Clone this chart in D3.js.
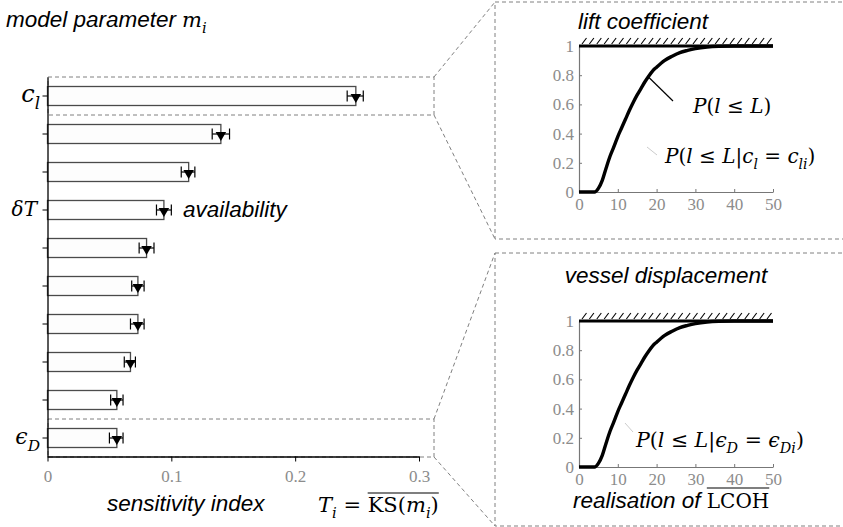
<!DOCTYPE html>
<html><head><meta charset="utf-8">
<script src="https://cdn.jsdelivr.net/npm/d3@7"></script>
<style>body{margin:0;background:#fff} svg{display:block}</style>
</head><body>
<svg id="chart" width="843" height="527"></svg>
<script>
// Sensitivity index per model parameter, top to bottom
const params = ["cl", "p2", "p3", "dT", "p5", "p6", "p7", "p8", "p9", "eD"];
const sensitivity = [0.249, 0.140, 0.114, 0.094, 0.080, 0.073, 0.073, 0.067, 0.056, 0.056];
const ciLow  = [0.242, 0.133, 0.108, 0.088, 0.074, 0.068, 0.067, 0.062, 0.051, 0.050];
const ciHigh = [0.255, 0.147, 0.119, 0.100, 0.086, 0.078, 0.078, 0.071, 0.061, 0.061];
const xTicks = [0, 0.1, 0.2, 0.3];

// Cumulative distribution of the LCOH realisation
const lcoh = [0, 4, 5, 6, 7, 8, 9, 10, 11, 12, 13, 14, 15, 16, 17, 18, 19, 20, 22, 24, 26, 28, 30, 33, 36, 40, 45, 50];
const cdf  = [0, 0, 0.025, 0.08, 0.165, 0.245, 0.31, 0.38, 0.44, 0.50, 0.56, 0.615, 0.665, 0.71, 0.755, 0.795, 0.83, 0.855, 0.90, 0.93, 0.955, 0.97, 0.982, 0.993, 0.998, 1, 1, 1];
const cdfXTicks = [0, 10, 20, 30, 40, 50];
const cdfYTicks = [0, 0.2, 0.4, 0.6, 0.8, 1];

const svg = d3.select("#chart");
const SANS = "'Liberation Sans', Arial, sans-serif";
const SERIF = "'DejaVu Serif', serif";
const TICKSERIF = "'Liberation Serif', 'DejaVu Serif', serif";
const DASH = "#808080";
const LABEL = 22.5;
const NB = "\u00A0";

// Math-style text: parts are [text, style], style r=roman, i=italic, s=italic subscript
function math(sel, x, y, parts, size, anchor) {
  const t = sel.append("text").attr("x", x).attr("y", y)
    .style("font-family", SERIF).attr("font-size", size)
    .attr("text-anchor", anchor || "start").attr("fill", "#000");
  let shifted = 0;
  parts.forEach(([txt, style]) => {
    const ts = t.append("tspan").text(txt.replace(/ /g, NB));
    const sub = style === "s";
    const off = sub ? size * 0.3 : 0;
    const dy = off - shifted;
    if (dy) ts.attr("dy", dy);
    shifted = off;
    ts.attr("font-style", style === "r" ? "normal" : "italic");
    if (sub) ts.attr("font-size", size * 0.7);
  });
  return t;
}

function label(sel, x, y, txt, anchor) {
  return sel.append("text").attr("x", x).attr("y", y).style("font-family", SANS)
    .attr("font-style", "italic").attr("font-size", LABEL)
    .attr("text-anchor", anchor || "start").text(txt);
}

// ---------- left: bar chart of sensitivity indices ----------
const x = d3.scaleLinear().domain([0, 0.3]).range([47.5, 419]);
const y = d3.scaleBand().domain(params).range([77, 457]).paddingInner(0.5).paddingOuter(0.25);

// dashed highlight boxes around the first and last parameter
const boxPad = 9.5;
[params[0], params[params.length - 1]].forEach(p => {
  svg.append("rect")
    .attr("x", 48).attr("y", y(p) - boxPad)
    .attr("width", 434 - 48).attr("height", y.bandwidth() + 2 * boxPad)
    .attr("fill", "none").attr("stroke", DASH).attr("stroke-width", 1)
    .attr("stroke-dasharray", "4,3");
});

svg.append("g").selectAll("rect").data(params).join("rect")
  .attr("x", x(0)).attr("y", d => y(d))
  .attr("width", (d, i) => x(sensitivity[i]) - x(0))
  .attr("height", y.bandwidth())
  .attr("fill", "#fdfdfd").attr("stroke", "#4a4a4a").attr("stroke-width", 1.3);

// confidence interval whiskers
const err = svg.append("g").attr("stroke", "#000").attr("stroke-width", 1.2);
params.forEach((p, i) => {
  const cy = y(p) + y.bandwidth() / 2;
  err.append("line").attr("x1", x(ciLow[i])).attr("x2", x(ciHigh[i])).attr("y1", cy).attr("y2", cy);
  err.append("line").attr("x1", x(ciLow[i])).attr("x2", x(ciLow[i])).attr("y1", cy - 5.5).attr("y2", cy + 5.5);
  err.append("line").attr("x1", x(ciHigh[i])).attr("x2", x(ciHigh[i])).attr("y1", cy - 5.5).attr("y2", cy + 5.5);
});

// mean markers (downward triangles)
svg.append("g").selectAll("path").data(params).join("path")
  .attr("d", d3.symbol(d3.symbolTriangle, 48))
  .attr("transform", (d, i) => `translate(${x(sensitivity[i])},${y(d) + y.bandwidth() / 2 + 1}) rotate(180)`)
  .attr("fill", "#000");

// y axis
const yAxis = svg.append("g").attr("transform", "translate(47.5,0)")
  .call(d3.axisLeft(y).tickSize(5).tickSizeOuter(0).tickFormat(""));
yAxis.select(".domain").attr("stroke", "#000").attr("stroke-width", 1.3);
yAxis.selectAll(".tick line").attr("stroke", "#000");

// x axis
const xAxis = svg.append("g").attr("transform", "translate(0,456.5)")
  .call(d3.axisBottom(x).tickValues(xTicks).tickSize(5).tickSizeOuter(0)
    .tickFormat(d => d === 0 ? "0" : d3.format(".1f")(d)));
xAxis.attr("font-family", null);
xAxis.select(".domain").attr("stroke", "#000").attr("stroke-width", 1.3);
xAxis.selectAll(".tick line").attr("stroke", "#000");
xAxis.selectAll(".tick text").style("font-family", TICKSERIF).attr("font-size", 17)
  .attr("fill", "#8c8c8c").attr("dy", "1.05em");

// parameter labels
const cyOf = p => y(p) + y.bandwidth() / 2;
math(svg, 40, cyOf("cl") + 6, [["c", "i"], ["l", "s"]], 24, "end");
math(svg, 37, cyOf("dT") + 6, [["δT", "i"]], 20, "end");
math(svg, 40, cyOf("eD") + 6, [["ϵ", "i"], ["D", "s"]], 22, "end");

// titles and annotations
label(svg, 6, 27, "model parameter");
math(svg, 182, 27, [["m", "i"], ["i", "s"]], 21);

label(svg, 183, 217, "availability");
label(svg, 107, 511, "sensitivity index");

const tEq = math(svg, 318, 512, [["T", "i"], ["i", "s"], [" = ", "r"]], 21);
const tEqW = tEq.node().getComputedTextLength();
const ks = math(svg, 318 + tEqW, 512, [["KS(", "r"], ["m", "i"], ["i", "s"], [")", "r"]], 21);
const ksBox = ks.node().getBBox();
svg.append("line").attr("x1", ksBox.x).attr("x2", ksBox.x + ksBox.width)
  .attr("y1", 493).attr("y2", 493).attr("stroke", "#000").attr("stroke-width", 1.2);

// ---------- right: zoom panels with cumulative distributions ----------
const panels = [
  { top: 2, bottom: 239, box: params[0], plotTop: 46, plotBottom: 192, title: "lift coefficient", titleX: 643, titleY: 29 },
  { top: 253, bottom: 526, box: params[params.length - 1], plotTop: 321, plotBottom: 467, title: "vessel displacement", titleX: 666, titleY: 283 }
];

panels.forEach(pn => {
  // panel frame and connector lines
  svg.append("rect").attr("x", 495).attr("y", pn.top).attr("width", 400).attr("height", pn.bottom - pn.top)
    .attr("fill", "none").attr("stroke", DASH).attr("stroke-dasharray", "4,3");
  const by0 = y(pn.box) - boxPad, by1 = y(pn.box) + y.bandwidth() + boxPad;
  svg.append("line").attr("x1", 434).attr("y1", by0).attr("x2", 495).attr("y2", pn.top)
    .attr("stroke", DASH).attr("stroke-dasharray", "4,3");
  svg.append("line").attr("x1", 434).attr("y1", by1).attr("x2", 495).attr("y2", pn.bottom)
    .attr("stroke", DASH).attr("stroke-dasharray", "4,3");

  label(svg, pn.titleX, pn.titleY, pn.title, "middle");

  const px = d3.scaleLinear().domain([0, 50]).range([579, 773]);
  const py = d3.scaleLinear().domain([0, 1]).range([pn.plotBottom, pn.plotTop]);
  pn.px = px; pn.py = py;

  const ax = svg.append("g").attr("transform", `translate(0,${pn.plotBottom})`)
    .call(d3.axisBottom(px).tickValues(cdfXTicks).tickSize(-3).tickSizeOuter(0).tickPadding(6).tickFormat(d3.format("d")));
  const ay = svg.append("g").attr("transform", "translate(579,0)")
    .call(d3.axisLeft(py).tickValues(cdfYTicks).tickSize(-3).tickSizeOuter(0).tickPadding(5)
      .tickFormat(d => d === 0 || d === 1 ? String(d) : d3.format(".1f")(d)));
  [ax, ay].forEach(a => {
    a.attr("font-family", null);
    a.select(".domain").attr("stroke", "#777").attr("stroke-width", 1.2);
    a.selectAll(".tick line").attr("stroke", "#777");
    a.selectAll(".tick text").style("font-family", TICKSERIF).attr("font-size", 17).attr("fill", "#8c8c8c");
  });

  // upper bound P = 1 with hatching
  svg.append("line").attr("x1", px(0)).attr("x2", px(50)).attr("y1", py(1)).attr("y2", py(1))
    .attr("stroke", "#000").attr("stroke-width", 2.8);
  const hatch = svg.append("g").attr("stroke", "#000").attr("stroke-width", 1.1);
  d3.range(px(0) + 3, px(50) - 2, 7.4).forEach(hx => {
    hatch.append("line").attr("x1", hx).attr("y1", py(1) - 2).attr("x2", hx + 4.5).attr("y2", py(1) - 8);
  });

  const line = d3.line().x((d, i) => px(lcoh[i])).y(d => py(d)).curve(d3.curveMonotoneX);
  svg.append("path").datum(cdf).attr("d", line).attr("fill", "none")
    .attr("stroke", "#000").attr("stroke-width", 3.4).attr("stroke-linejoin", "round");
});

// annotations, lift coefficient panel
const p1 = panels[0];
svg.append("line").attr("x1", p1.px(17.7)).attr("y1", p1.py(0.8) + 1).attr("x2", 673).attr("y2", 101)
  .attr("stroke", "#000").attr("stroke-width", 1.2);
math(svg, 693, 113, [["P", "i"], ["(", "r"], ["l", "i"], [" ≤ ", "r"], ["L", "i"], [")", "r"]], 20);
svg.append("line").attr("x1", 647).attr("y1", 147).attr("x2", 657).attr("y2", 155)
  .attr("stroke", "#ccc").attr("stroke-width", 1);
math(svg, 665, 163, [["P", "i"], ["(", "r"], ["l", "i"], [" ≤ ", "r"], ["L", "i"], ["|", "r"], ["c", "i"], ["l", "s"],
  [" = ", "r"], ["c", "i"], ["li", "s"], [")", "r"]], 20);

// annotations, vessel displacement panel
svg.append("line").attr("x1", 625).attr("y1", 423).attr("x2", 633).attr("y2", 432)
  .attr("stroke", "#ccc").attr("stroke-width", 1);
math(svg, 636, 447, [["P", "i"], ["(", "r"], ["l", "i"], [" ≤ ", "r"], ["L", "i"], ["|", "r"], ["ϵ", "i"], ["D", "s"],
  [" = ", "r"], ["ϵ", "i"], ["Di", "s"], [")", "r"]], 20.5);

// x label of the lower panel
const real = label(svg, 573, 508, "realisation of" + NB);
const realW = real.node().getComputedTextLength();
const lc = svg.append("text").attr("x", 573 + realW).attr("y", 508).style("font-family", SERIF)
  .attr("font-size", 20).text("LCOH");
const lcBox = lc.node().getBBox();
svg.append("line").attr("x1", lcBox.x).attr("x2", lcBox.x + lcBox.width).attr("y1", 488).attr("y2", 488)
  .attr("stroke", "#000").attr("stroke-width", 1.2);
</script>
</body></html>
